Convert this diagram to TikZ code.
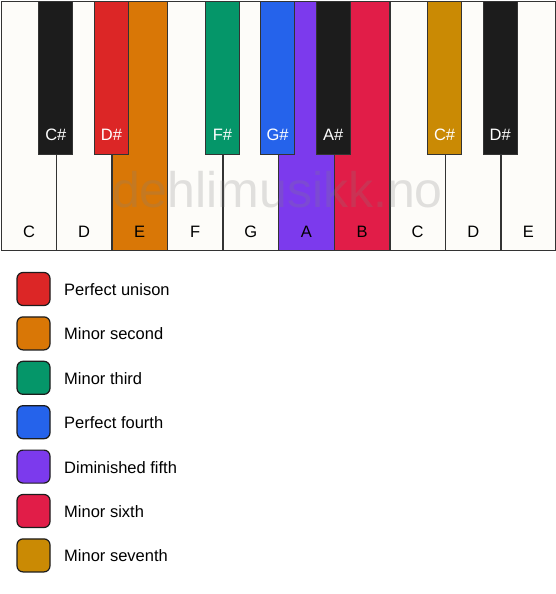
\documentclass[tikz,border=0pt]{standalone}
\usepackage{fontspec}
\setmainfont{Liberation Sans}
\definecolor{keyline}{HTML}{333333}
\definecolor{ivory}{HTML}{FDFCF9}
\definecolor{ebony}{HTML}{1C1C1C}
\definecolor{cunison}{HTML}{DC2626}
\definecolor{csecond}{HTML}{D97706}
\definecolor{cthird}{HTML}{059669}
\definecolor{cfourth}{HTML}{2563EB}
\definecolor{cfifth}{HTML}{7C3AED}
\definecolor{csixth}{HTML}{E11D48}
\definecolor{cseventh}{HTML}{CA8A04}
\definecolor{wmark}{HTML}{808080}
\begin{document}
\begin{tikzpicture}[x=1pt,y=-1pt,
  whitekey/.style={draw=keyline,line width=1.3pt,fill=#1,rectangle,minimum width=55.6pt,minimum height=249pt,inner sep=0pt,anchor=north west},
  blackkey/.style={draw=keyline,line width=1.3pt,fill=#1,rectangle,minimum width=34pt,minimum height=153pt,inner sep=0pt,anchor=north},
  wlabel/.style={font=\fontsize{16.5}{19}\selectfont,text=black,anchor=base,inner sep=0pt},
  blabel/.style={font=\fontsize{16.5}{19}\selectfont,text=white,anchor=base,inner sep=0pt},
  swatch/.style={draw=ebony,line width=1.2pt,fill=#1,rounded corners=6pt,minimum width=33pt,minimum height=33pt,inner sep=0pt},
  legtext/.style={font=\fontsize{16.5}{19}\selectfont,anchor=base west,inner sep=0pt}]
\useasboundingbox[fill=white] (0,0) rectangle (556,594);
% white keys
\node[whitekey=ivory]   (kC1) at (0.6,0.6) {};
\node[whitekey=ivory]   (kD1) at (55.6,0.6) {};
\node[whitekey=csecond] (kE1) at (111.2,0.6) {};
\node[whitekey=ivory]   (kF1) at (166.8,0.6) {};
\node[whitekey=ivory]   (kG1) at (222.4,0.6) {};
\node[whitekey=cfifth]  (kA1) at (278,0.6) {};
\node[whitekey=csixth]  (kB1) at (333.6,0.6) {};
\node[whitekey=ivory]   (kC2) at (389.2,0.6) {};
\node[whitekey=ivory]   (kD2) at (444.8,0.6) {};
\node[whitekey=ivory,minimum width=54.6pt] (kE2) at (500.4,0.6) {};
% white labels
\foreach \k/\t in {kC1/C,kD1/D,kE1/E,kF1/F,kG1/G,kA1/A,kB1/B,kC2/C,kD2/D,kE2/E}
  \node[wlabel] (l\k) at ([yshift=13.5pt]\k.south) {\t};
% watermark
\node[font=\fontsize{50}{60}\selectfont,text=wmark,text opacity=0.23,anchor=base,inner sep=0pt] (wm) at (277.5,207) {dehlimusikk.no};
% black keys
\node[blackkey=ebony]    (kCs1) at (55.8,0.6) {};
\node[blackkey=cunison]  (kDs1) at (111.5,0.6) {};
\node[blackkey=cthird]   (kFs1) at (222.5,0.6) {};
\node[blackkey=cfourth]  (kGs1) at (277.6,0.6) {};
\node[blackkey=ebony]    (kAs1) at (333.2,0.6) {};
\node[blackkey=cseventh] (kCs2) at (444.6,0.6) {};
\node[blackkey=ebony]    (kDs2) at (500.2,0.6) {};
\foreach \k/\t in {kCs1/C\#,kDs1/D\#,kFs1/F\#,kGs1/G\#,kAs1/A\#,kCs2/C\#,kDs2/D\#}
  \node[blabel] (l\k) at ([yshift=14.6pt]\k.south) {\t};
% legend
\foreach \i/\c/\t in {0/cunison/Perfect unison,1/csecond/Minor second,2/cthird/Minor third,3/cfourth/Perfect fourth,4/cfifth/Diminished fifth,5/csixth/Minor sixth,6/cseventh/Minor seventh}{
  \node[swatch=\c] (sw\i) at (33.5,289+44.4*\i) {};
  \node[legtext] (lt\i) at (64,295.5+44.4*\i) {\t};
}
\end{tikzpicture}
\end{document}
